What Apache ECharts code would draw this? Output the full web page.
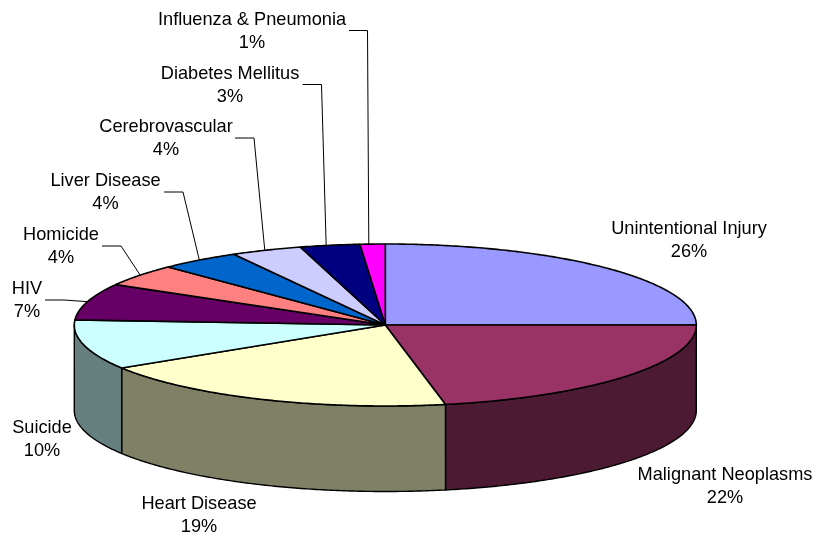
<!DOCTYPE html>
<html><head><meta charset="utf-8">
<style>html,body{margin:0;padding:0;background:#fff}#c{width:817px;height:536px}</style>
<script src="https://cdn.jsdelivr.net/npm/echarts@6/dist/echarts.min.js"></script>
</head><body><div id="c"></div>
<script>
const categories = ['Unintentional Injury','Malignant Neoplasms','Heart Disease','Suicide','HIV','Homicide','Liver Disease','Cerebrovascular','Diabetes Mellitus','Influenza & Pneumonia'];
const sliceShares = [25.0,21.9,19.2,9.9,7.3,4.4,4.2,3.7,3.1,1.3];
const percentLabels = ['26%','22%','19%','10%','7%','4%','4%','4%','3%','1%'];
const topColors = ['#9999FF','#993366','#FFFFCC','#CCFFFF','#660066','#FF8080','#0066CC','#CCCCFF','#000080','#FF00FF'];
const sideColors = ['#4D4D80','#4D1A33','#808066','#668080','#330033','#804040','#003366','#666680','#000040','#800080'];

// layout of the pie and its labels
const CX = 385.3, CY = 325, RX = 311, RY = 81, DEPTH = 85.5;
const labelCenters = [[689,229],[725,475],[199,504],[42,428],[27,289],[61,235],[105.5,181],[166,127],[230,74],[252,20]];
const leaderElbows = [null,null,null,null,[[45,300],[64,300]],[[102,246],[121,246]],[[164,192],[183,192]],[[235,138],[254,138]],[[302.5,84.5],[321.5,84.5]],[[349,30.5],[367.5,30.5]]];
const leaderShiftDeg = [0,0,0,0,0,0.2,0,-0.3,-0.7,-0.7];
const LINE_GAP = 23;
const FONT = '18.2px "Liberation Sans"';

const total = sliceShares.reduce((a,b)=>a+b,0);
const starts = []; let run = 0;
sliceShares.forEach(v=>{starts.push(run/total*Math.PI*2); run+=v;});
const pt = (a,dy=0)=>[CX+RX*Math.sin(a), CY-RY*Math.cos(a)+dy];
function arc(a0,a1,dy){
  const n=Math.max(2,Math.ceil(Math.abs(a1-a0)/0.01)), out=[];
  for(let i=0;i<=n;i++) out.push(pt(a0+(a1-a0)*i/n,dy));
  return out;
}
const stroke='#000';
function renderItem(params,api){
  const i=params.dataIndex, share=api.value(0);
  const a0=starts[i], a1=a0+share/total*Math.PI*2;
  const children=[];
  // front wall: only the part facing the viewer
  const w0=Math.max(a0,Math.PI/2), w1=Math.min(a1,Math.PI*1.5);
  if(w1>w0){
    children.push({type:'polygon',z2:1,shape:{points:arc(w0,w1,0).concat(arc(w1,w0,DEPTH))},
      style:{fill:sideColors[i],stroke,lineWidth:1.4,lineJoin:'round'}});
  }
  children.push({type:'polygon',z2:2,shape:{points:[[CX,CY]].concat(arc(a0,a1,0))},
    style:{fill:topColors[i],stroke,lineWidth:1.6,lineJoin:'round'}});
  const [lx,ly]=labelCenters[i];
  children.push({type:'text',z2:4,style:{text:categories[i],x:lx,y:ly,align:'center',verticalAlign:'middle',font:FONT,fill:'#000'}});
  children.push({type:'text',z2:4,style:{text:percentLabels[i],x:lx,y:ly+LINE_GAP,align:'center',verticalAlign:'middle',font:FONT,fill:'#000'}});
  if(leaderElbows[i]){
    const end=pt((a0+a1)/2+leaderShiftDeg[i]*Math.PI/180);
    children.push({type:'polyline',z2:3,shape:{points:leaderElbows[i].concat([end])},style:{fill:null,stroke:'#000',lineWidth:1}});
  }
  return {type:'group',children};
}
const chart=echarts.init(document.getElementById('c'),null,{renderer:'canvas'});
chart.setOption({
  animation:false,
  backgroundColor:'#fff',
  series:[{type:'custom',coordinateSystem:'none',renderItem,silent:true,data:sliceShares.map(v=>[v])}]
});
</script></body></html>
